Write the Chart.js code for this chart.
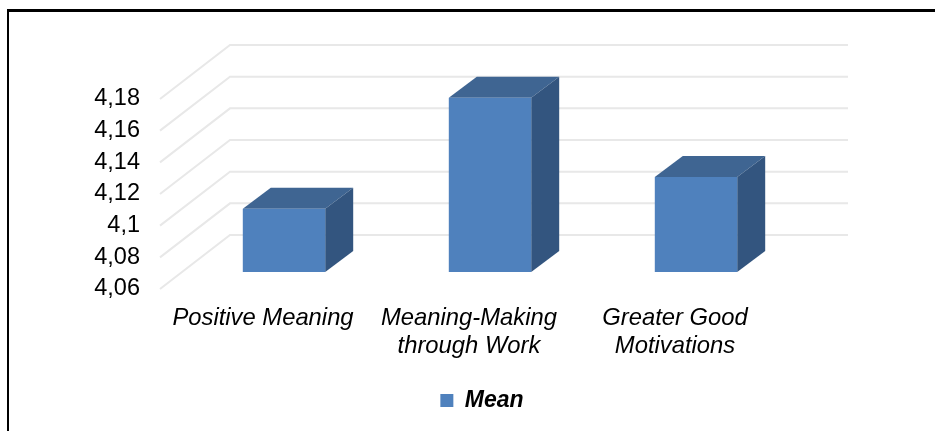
<!DOCTYPE html>
<html>
<head>
<meta charset="utf-8">
<style>
  html, body { margin: 0; padding: 0; background: #fff; overflow: hidden; }
  #frame { position: absolute; left: 7px; top: 9px; right: 0; bottom: 0; border-left: 2px solid #000; border-top: 3px solid #000; }
  canvas { position: absolute; left: 0; top: 0; }
</style>
<script src="https://cdn.jsdelivr.net/npm/chart.js@4"></script>
</head>
<body>
<div id="frame"></div>
<canvas id="chart" width="935" height="431"></canvas>
<script>
const categories = [
  "Positive Meaning",
  ["Meaning-Making", "through Work"],
  ["Greater Good", "Motivations"],
];
const meanValues = [4.1, 4.17, 4.12];
const tickValues = [4.06, 4.08, 4.1, 4.12, 4.14, 4.16, 4.18];
const tickLabels = ["4,06", "4,08", "4,1", "4,12", "4,14", "4,16", "4,18"];

// bars sit partway into the box, the wall is at the back of it
const BAR_SHIFT = { x: 21, y: -17 };
const BAR_DEPTH = { x: 28, y: -21 };
const WALL = { x: 70, y: -54 };
const LEGEND_SHIFT = 93;

const fakeDepth = {
  id: "fakeDepth",
  afterLayout(chart) {
    chart.legend.left += LEGEND_SHIFT;
    chart.legend.right += LEGEND_SHIFT;
  },
  beforeDatasetsDraw(chart) {
    const { ctx, chartArea, scales } = chart;
    ctx.save();
    ctx.strokeStyle = "#e8e8e8";
    ctx.lineWidth = 2;
    tickValues.forEach((v) => {
      const y = scales.y.getPixelForValue(v);
      ctx.beginPath();
      ctx.moveTo(chartArea.left, y);
      ctx.lineTo(chartArea.left + WALL.x, y + WALL.y);
      ctx.lineTo(chartArea.right + WALL.x, y + WALL.y);
      ctx.stroke();
    });
    ctx.restore();

    ctx.save();
    ctx.translate(BAR_SHIFT.x, BAR_SHIFT.y);
    chart.getDatasetMeta(0).data.forEach((bar) => {
      const left = bar.x - bar.width / 2;
      const right = bar.x + bar.width / 2;
      ctx.fillStyle = "#3f6592";
      ctx.beginPath();
      ctx.moveTo(left, bar.y);
      ctx.lineTo(left + BAR_DEPTH.x, bar.y + BAR_DEPTH.y);
      ctx.lineTo(right + BAR_DEPTH.x, bar.y + BAR_DEPTH.y);
      ctx.lineTo(right, bar.y);
      ctx.closePath();
      ctx.fill();
      ctx.fillStyle = "#33557f";
      ctx.beginPath();
      ctx.moveTo(right, bar.y);
      ctx.lineTo(right + BAR_DEPTH.x, bar.y + BAR_DEPTH.y);
      ctx.lineTo(right + BAR_DEPTH.x, bar.base + BAR_DEPTH.y);
      ctx.lineTo(right, bar.base);
      ctx.closePath();
      ctx.fill();
    });
  },
  afterDatasetsDraw(chart) {
    chart.ctx.restore();
  },
};

new Chart(document.getElementById("chart"), {
  type: "bar",
  data: {
    labels: categories,
    datasets: [
      {
        label: "Mean",
        data: meanValues,
        base: tickValues[0],
        backgroundColor: "#4f81bd",
        barPercentage: 0.8,
        categoryPercentage: 0.5,
      },
    ],
  },
  options: {
    responsive: false,
    animation: false,
    layout: { padding: { top: 99, right: 157, bottom: 9, left: 0 } },
    scales: {
      x: {
        grid: { display: false },
        border: { display: false },
        ticks: {
          color: "#000",
          padding: 7,
          maxRotation: 0,
          autoSkip: false,
          font: { family: "Liberation Sans", size: 23.8, style: "italic", lineHeight: 1.2 },
        },
        afterFit(scale) {
          scale.height = 92;
        },
      },
      y: {
        min: 4.06,
        max: 4.18,
        grid: { display: false },
        border: { display: false },
        afterBuildTicks(scale) {
          scale.ticks = tickValues.map((value) => ({ value }));
        },
        ticks: {
          color: "#000",
          padding: 12,
          font: { family: "Liberation Sans", size: 23.5 },
          callback: (value, i) => tickLabels[i],
        },
        afterFit(scale) {
          scale.width = 160;
        },
      },
    },
    plugins: {
      legend: {
        position: "bottom",
        labels: {
          color: "#000",
          boxWidth: 13,
          boxHeight: 13,
          padding: 8,
          font: { family: "Liberation Sans", size: 23, style: "italic", weight: "bold" },
        },
      },
      tooltip: { enabled: false },
    },
  },
  plugins: [fakeDepth],
});
</script>
</body>
</html>
